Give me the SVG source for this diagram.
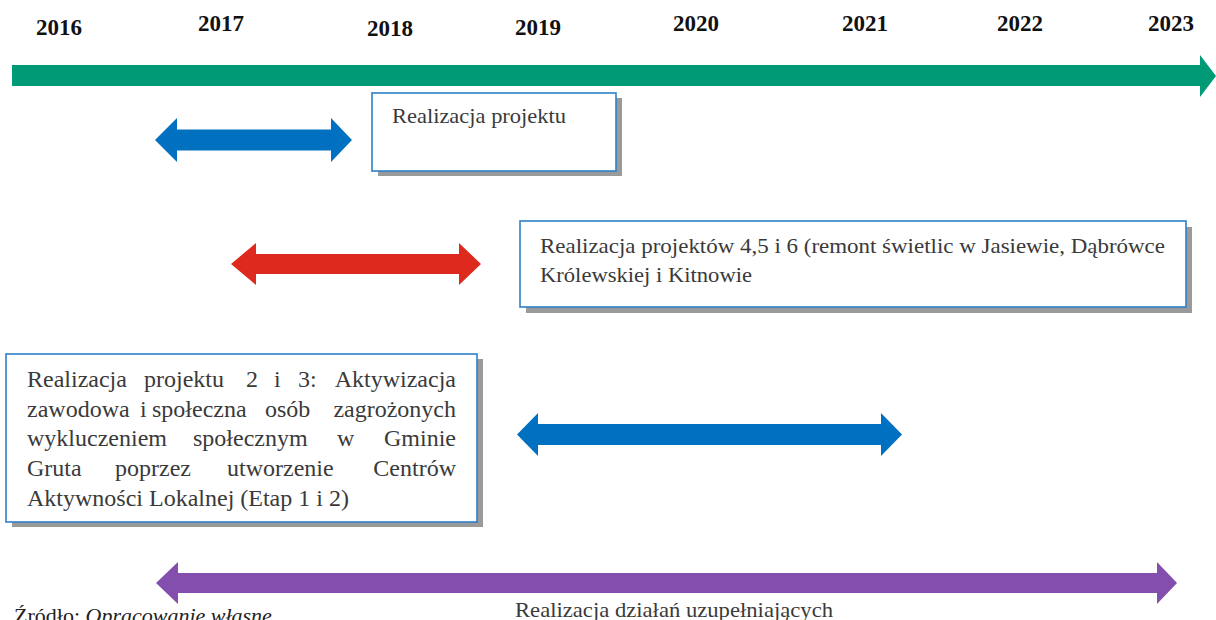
<svg xmlns="http://www.w3.org/2000/svg" width="1216" height="620" viewBox="0 0 1216 620">
<style>
.yr{font-family:"Liberation Serif",serif;font-weight:bold;font-size:23px;fill:#111}
.t{font-family:"Liberation Serif",serif;fill:#3a3a3a}
.box{fill:#fff;stroke:#2c80c8;stroke-width:1.6}
.sh{fill:#9a9a9a}
</style>
<rect width="1216" height="620" fill="#fff"/>
<g id="years">
<text class="yr" x="36" y="35">2016</text>
<text class="yr" x="198" y="31">2017</text>
<text class="yr" x="367" y="36">2018</text>
<text class="yr" x="515" y="35">2019</text>
<text class="yr" x="673" y="31">2020</text>
<text class="yr" x="842" y="31">2021</text>
<text class="yr" x="997" y="31">2022</text>
<text class="yr" x="1148" y="31">2023</text>
</g>
<g id="connectors">
<path id="timeline" d="M12,65 L1200,65 L1200,55 L1216,76 L1200,97 L1200,86 L12,86 Z" fill="#009a76"/>
<path id="arrow-blue1" d="M155,140 L177,118 L177,129.5 L331,129.5 L331,118 L352,140 L331,162 L331,150.5 L177,150.5 L177,162 Z" fill="#0070c0"/>
<path id="arrow-red" d="M231,264 L256,243 L256,254 L459,254 L459,243 L481,264 L459,285 L459,274 L256,274 L256,285 Z" fill="#de291e"/>
<path id="arrow-blue2" d="M517,434.5 L538,413 L538,424 L881,424 L881,413 L902,434.5 L881,456 L881,445 L538,445 L538,456 Z" fill="#0070c0"/>
<path id="arrow-purple" d="M156,583 L178,562 L178,573 L1157,573 L1157,562 L1177,583 L1157,604 L1157,593 L178,593 L178,604 Z" fill="#844eae"/>
</g>
<g id="node-projekt1">
<rect class="sh" x="378" y="98" width="244" height="78"/>
<rect class="box" x="372" y="93" width="244" height="78"/>
<text class="t" x="392" y="123" font-size="21.5" textLength="174" lengthAdjust="spacingAndGlyphs">Realizacja projektu</text>
</g>
<g id="node-projekt456">
<rect class="sh" x="526" y="227" width="666" height="86"/>
<rect class="box" x="520" y="221" width="666" height="86"/>
<text class="t" x="540" y="253" font-size="21.5" textLength="625" lengthAdjust="spacingAndGlyphs">Realizacja projektów 4,5 i 6 (remont świetlic w Jasiewie, Dąbrówce</text>
<text class="t" x="540" y="282" font-size="21.5" textLength="212" lengthAdjust="spacingAndGlyphs">Królewskiej i Kitnowie</text>
</g>
<g id="node-projekt23">
<rect class="sh" x="12" y="359" width="471" height="168"/>
<rect class="box" x="6" y="354" width="471" height="168"/>
<g class="t" font-size="24">
<text y="387"><tspan x="27">Realizacja</tspan><tspan x="144">projektu</tspan><tspan x="246">2</tspan><tspan x="274">i</tspan><tspan x="298">3:</tspan></text>
<text y="387" x="456" text-anchor="end">Aktywizacja</text>
<text y="416.5"><tspan x="27">zawodowa</tspan><tspan x="140">i</tspan><tspan x="152">społeczna</tspan><tspan x="265">osób</tspan></text>
<text y="416.5" x="456" text-anchor="end">zagrożonych</text>
<text y="446"><tspan x="27">wykluczeniem</tspan><tspan x="193">społecznym</tspan><tspan x="337">w</tspan></text>
<text y="446" x="456" text-anchor="end">Gminie</text>
<text y="476"><tspan x="27">Gruta</tspan><tspan x="115">poprzez</tspan><tspan x="227">utworzenie</tspan></text>
<text y="476" x="456" text-anchor="end">Centrów</text>
<text y="505.5" x="27">Aktywności Lokalnej (Etap 1 i 2)</text>
</g>
</g>
<g id="label-uzupelniajace">
<text class="t" x="515" y="617" font-size="22" textLength="318" lengthAdjust="spacingAndGlyphs">Realizacja działań uzupełniających</text>
</g>
<g id="source">
<text x="14" y="623" font-family="Liberation Serif, serif" font-size="22" fill="#222">Źródło: <tspan font-style="italic">Opracowanie własne</tspan></text>
</g>
</svg>
